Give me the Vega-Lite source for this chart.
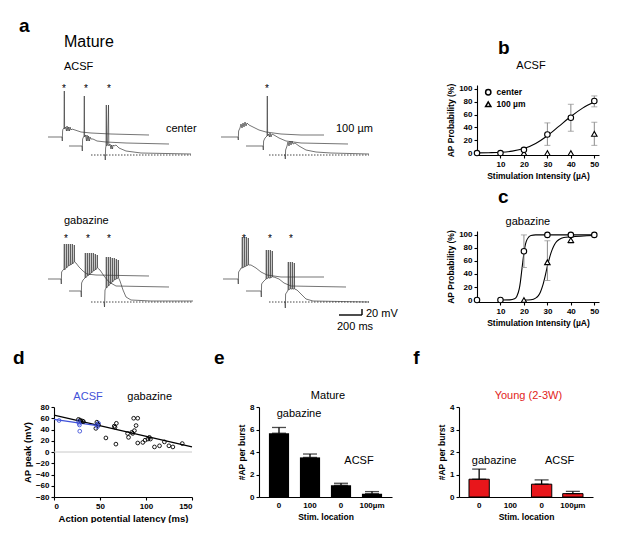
{
"$schema":"https://vega.github.io/schema/vega-lite/v6.json",
"padding":{"left":12,"top":17,"right":0,"bottom":0},
"background":"white",
"config":{
 "font":"Liberation Sans",
 "view":{"stroke":null},
 "axis":{"grid":false,"domainColor":"#000","domainWidth":1.1,"tickColor":"#000","tickWidth":1.1,"tickSize":3,"labelColor":"#000","labelFontSize":8,"labelFontWeight":"bold","labelPadding":2,"titleColor":"#000","titleFontSize":8.5,"titleFontWeight":"bold","titlePadding":3}
},
"datasets":{
 "traces":[
  {"id":"a1","t":47,"v":203},{"id":"a1","t":61,"v":203},{"id":"a1","t":61.3,"v":199},{"id":"a1","t":61.6,"v":209},{"id":"a1","t":62,"v":211},{"id":"a1","t":63,"v":212},{"id":"a1","t":63.3,"v":249},{"id":"a1","t":63.6,"v":211},{"id":"a1","t":64.5,"v":213},{"id":"a1","t":65.5,"v":209},{"id":"a1","t":66,"v":214},{"id":"a1","t":67,"v":209},{"id":"a1","t":67.5,"v":213},{"id":"a1","t":68.5,"v":209},{"id":"a1","t":69,"v":213},{"id":"a1","t":70,"v":210},{"id":"a1","t":71,"v":211},{"id":"a1","t":74,"v":210},{"id":"a1","t":80,"v":208},{"id":"a1","t":90,"v":207},{"id":"a1","t":110,"v":206},{"id":"a1","t":148,"v":205},
  {"id":"a2","t":68,"v":194},{"id":"a2","t":81,"v":194},{"id":"a2","t":81.3,"v":189},{"id":"a2","t":81.6,"v":201},{"id":"a2","t":82.5,"v":203},{"id":"a2","t":83,"v":204},{"id":"a2","t":83.3,"v":244},{"id":"a2","t":83.6,"v":203},{"id":"a2","t":84.5,"v":205},{"id":"a2","t":85.5,"v":199},{"id":"a2","t":86,"v":205},{"id":"a2","t":87,"v":199},{"id":"a2","t":87.5,"v":204},{"id":"a2","t":88.5,"v":199},{"id":"a2","t":89,"v":203},{"id":"a2","t":90,"v":201},{"id":"a2","t":92,"v":201},{"id":"a2","t":96,"v":199},{"id":"a2","t":105,"v":198},{"id":"a2","t":125,"v":197},{"id":"a2","t":168,"v":196},
  {"id":"a3","t":103,"v":185},{"id":"a3","t":104,"v":185},{"id":"a3","t":104.3,"v":180},{"id":"a3","t":104.6,"v":192},{"id":"a3","t":105,"v":194},{"id":"a3","t":105.3,"v":235},{"id":"a3","t":105.6,"v":194},{"id":"a3","t":106.5,"v":195},{"id":"a3","t":107.5,"v":235},{"id":"a3","t":107.8,"v":194},{"id":"a3","t":109,"v":196},{"id":"a3","t":110,"v":191},{"id":"a3","t":110.5,"v":195},{"id":"a3","t":111.5,"v":191},{"id":"a3","t":112,"v":195},{"id":"a3","t":113,"v":194},{"id":"a3","t":115,"v":195},{"id":"a3","t":118,"v":192},{"id":"a3","t":125,"v":189},{"id":"a3","t":140,"v":187},{"id":"a3","t":190,"v":186},
  {"id":"b1","t":220,"v":203},{"id":"b1","t":237,"v":203},{"id":"b1","t":237.3,"v":200},{"id":"b1","t":237.6,"v":209},{"id":"b1","t":239,"v":212},{"id":"b1","t":240,"v":216},{"id":"b1","t":241,"v":212},{"id":"b1","t":242,"v":217},{"id":"b1","t":243,"v":213},{"id":"b1","t":244,"v":218},{"id":"b1","t":245,"v":214},{"id":"b1","t":246,"v":217},{"id":"b1","t":248,"v":215},{"id":"b1","t":252,"v":213},{"id":"b1","t":258,"v":210},{"id":"b1","t":265,"v":208},{"id":"b1","t":280,"v":206},{"id":"b1","t":300,"v":205},{"id":"b1","t":323,"v":205},
  {"id":"b2","t":245,"v":194},{"id":"b2","t":262,"v":194},{"id":"b2","t":262.3,"v":190},{"id":"b2","t":262.6,"v":199},{"id":"b2","t":264,"v":202},{"id":"b2","t":266,"v":204},{"id":"b2","t":266.3,"v":244},{"id":"b2","t":266.6,"v":204},{"id":"b2","t":267.5,"v":206},{"id":"b2","t":268.5,"v":203},{"id":"b2","t":269,"v":207},{"id":"b2","t":270,"v":203},{"id":"b2","t":271,"v":206},{"id":"b2","t":273,"v":205},{"id":"b2","t":278,"v":202},{"id":"b2","t":285,"v":199},{"id":"b2","t":300,"v":197},{"id":"b2","t":347,"v":196},
  {"id":"b3","t":283,"v":185},{"id":"b3","t":284,"v":185},{"id":"b3","t":284.3,"v":181},{"id":"b3","t":284.6,"v":190},{"id":"b3","t":286,"v":194},{"id":"b3","t":287,"v":198},{"id":"b3","t":288,"v":194},{"id":"b3","t":289,"v":199},{"id":"b3","t":290,"v":195},{"id":"b3","t":291,"v":199},{"id":"b3","t":292,"v":196},{"id":"b3","t":294,"v":197},{"id":"b3","t":298,"v":194},{"id":"b3","t":305,"v":190},{"id":"b3","t":315,"v":188},{"id":"b3","t":330,"v":187},{"id":"b3","t":368,"v":186},
  {"id":"c1","t":47,"v":61},{"id":"c1","t":60,"v":61},{"id":"c1","t":60.3,"v":56},{"id":"c1","t":60.6,"v":68},{"id":"c1","t":62,"v":70},{"id":"c1","t":63,"v":71},{"id":"c1","t":63.3,"v":96},{"id":"c1","t":63.6,"v":70},{"id":"c1","t":65,"v":72},{"id":"c1","t":65.3,"v":96},{"id":"c1","t":65.6,"v":72},{"id":"c1","t":67,"v":74},{"id":"c1","t":67.3,"v":96},{"id":"c1","t":67.6,"v":74},{"id":"c1","t":69,"v":75},{"id":"c1","t":69.3,"v":96},{"id":"c1","t":69.6,"v":75},{"id":"c1","t":71,"v":76},{"id":"c1","t":71.3,"v":96},{"id":"c1","t":71.6,"v":76},{"id":"c1","t":73,"v":78},{"id":"c1","t":73.3,"v":95},{"id":"c1","t":73.6,"v":78},{"id":"c1","t":75,"v":77},{"id":"c1","t":78,"v":73},{"id":"c1","t":82,"v":69},{"id":"c1","t":86,"v":66},{"id":"c1","t":95,"v":65},{"id":"c1","t":148,"v":64},
  {"id":"c2","t":68,"v":49},{"id":"c2","t":80,"v":49},{"id":"c2","t":80.3,"v":43},{"id":"c2","t":80.6,"v":57},{"id":"c2","t":82,"v":60},{"id":"c2","t":84,"v":62},{"id":"c2","t":84.3,"v":87},{"id":"c2","t":84.6,"v":62},{"id":"c2","t":86,"v":64},{"id":"c2","t":86.3,"v":87},{"id":"c2","t":86.6,"v":64},{"id":"c2","t":88,"v":65},{"id":"c2","t":88.3,"v":87},{"id":"c2","t":88.6,"v":65},{"id":"c2","t":90,"v":67},{"id":"c2","t":90.3,"v":87},{"id":"c2","t":90.6,"v":67},{"id":"c2","t":92,"v":69},{"id":"c2","t":92.3,"v":87},{"id":"c2","t":92.6,"v":69},{"id":"c2","t":94,"v":70},{"id":"c2","t":94.3,"v":86},{"id":"c2","t":94.6,"v":70},{"id":"c2","t":96,"v":72},{"id":"c2","t":96.3,"v":85},{"id":"c2","t":96.6,"v":72},{"id":"c2","t":99,"v":70},{"id":"c2","t":103,"v":64},{"id":"c2","t":108,"v":58},{"id":"c2","t":115,"v":54},{"id":"c2","t":168,"v":53},
  {"id":"c3","t":103,"v":38},{"id":"c3","t":103.5,"v":33},{"id":"c3","t":104,"v":50},{"id":"c3","t":105,"v":52},{"id":"c3","t":105.3,"v":83},{"id":"c3","t":105.6,"v":52},{"id":"c3","t":107,"v":54},{"id":"c3","t":107.3,"v":83},{"id":"c3","t":107.6,"v":54},{"id":"c3","t":109,"v":56},{"id":"c3","t":109.3,"v":83},{"id":"c3","t":109.6,"v":56},{"id":"c3","t":111,"v":58},{"id":"c3","t":111.3,"v":82},{"id":"c3","t":111.6,"v":58},{"id":"c3","t":113,"v":60},{"id":"c3","t":113.3,"v":82},{"id":"c3","t":113.6,"v":60},{"id":"c3","t":115,"v":61},{"id":"c3","t":115.3,"v":81},{"id":"c3","t":115.6,"v":61},{"id":"c3","t":117,"v":62},{"id":"c3","t":117.3,"v":80},{"id":"c3","t":117.6,"v":62},{"id":"c3","t":119,"v":59},{"id":"c3","t":122,"v":50},{"id":"c3","t":125,"v":43},{"id":"c3","t":130,"v":40},{"id":"c3","t":150,"v":39},{"id":"c3","t":192,"v":39},
  {"id":"d1","t":222,"v":61},{"id":"d1","t":237,"v":61},{"id":"d1","t":237.3,"v":56},{"id":"d1","t":237.6,"v":68},{"id":"d1","t":239,"v":70},{"id":"d1","t":240,"v":72},{"id":"d1","t":241,"v":72},{"id":"d1","t":241.3,"v":103},{"id":"d1","t":241.6,"v":72},{"id":"d1","t":243,"v":73},{"id":"d1","t":243.3,"v":103},{"id":"d1","t":243.6,"v":73},{"id":"d1","t":245,"v":74},{"id":"d1","t":245.3,"v":103},{"id":"d1","t":245.6,"v":74},{"id":"d1","t":247,"v":75},{"id":"d1","t":247.3,"v":102},{"id":"d1","t":247.6,"v":75},{"id":"d1","t":250,"v":75},{"id":"d1","t":255,"v":72},{"id":"d1","t":260,"v":68},{"id":"d1","t":266,"v":65},{"id":"d1","t":280,"v":63},{"id":"d1","t":323,"v":63},
  {"id":"d2","t":245,"v":49},{"id":"d2","t":260,"v":49},{"id":"d2","t":260.3,"v":43},{"id":"d2","t":260.6,"v":56},{"id":"d2","t":262,"v":58},{"id":"d2","t":264,"v":60},{"id":"d2","t":265,"v":61},{"id":"d2","t":265.3,"v":90},{"id":"d2","t":265.6,"v":61},{"id":"d2","t":267,"v":62},{"id":"d2","t":267.3,"v":90},{"id":"d2","t":267.6,"v":62},{"id":"d2","t":269,"v":62},{"id":"d2","t":269.3,"v":90},{"id":"d2","t":269.6,"v":62},{"id":"d2","t":271,"v":63},{"id":"d2","t":271.3,"v":89},{"id":"d2","t":271.6,"v":63},{"id":"d2","t":273,"v":63},{"id":"d2","t":278,"v":61},{"id":"d2","t":283,"v":57},{"id":"d2","t":290,"v":54},{"id":"d2","t":345,"v":53},
  {"id":"d3","t":283,"v":38},{"id":"d3","t":284,"v":38},{"id":"d3","t":284.3,"v":32},{"id":"d3","t":284.6,"v":46},{"id":"d3","t":286,"v":48},{"id":"d3","t":287,"v":50},{"id":"d3","t":287.3,"v":78},{"id":"d3","t":287.6,"v":50},{"id":"d3","t":289,"v":51},{"id":"d3","t":289.3,"v":78},{"id":"d3","t":289.6,"v":51},{"id":"d3","t":291,"v":51},{"id":"d3","t":291.3,"v":78},{"id":"d3","t":291.6,"v":51},{"id":"d3","t":293,"v":51},{"id":"d3","t":293.3,"v":77},{"id":"d3","t":293.6,"v":51},{"id":"d3","t":296,"v":50},{"id":"d3","t":300,"v":46},{"id":"d3","t":305,"v":41},{"id":"d3","t":312,"v":39},{"id":"d3","t":368,"v":38}
 ]
},
"spacing":322,"bounds":"flush",
"resolve":{"scale":{"shape":"independent","color":"independent"},"legend":{"shape":"independent","color":"independent"}},
"vconcat":[
 {"hconcat":[
  {"width":342,"height":235,
   "encoding":{"x":{"field":"t","type":"quantitative","scale":{"domain":[53,395],"zero":false,"nice":false},"axis":null},
               "y":{"field":"v","type":"quantitative","scale":{"domain":[20,255],"zero":false,"nice":false},"axis":null}},
   "layer":[
    {"data":{"name":"traces"},"mark":{"type":"line","stroke":"#3a3a3a","strokeWidth":0.7,"clip":false},"encoding":{"detail":{"field":"id"}}},
    {"data":{"values":[{"id":"a3","t":90,"v":185},{"id":"a3","t":190,"v":185},{"id":"b3","t":268,"v":185},{"id":"b3","t":368,"v":185},{"id":"c3","t":90,"v":38},{"id":"c3","t":192,"v":38},{"id":"d3","t":268,"v":38},{"id":"d3","t":368,"v":38}]},
     "mark":{"type":"line","stroke":"#333","strokeWidth":0.9,"strokeDash":[1.5,1.5]},"encoding":{"detail":{"field":"id"}}},
    {"data":{"values":[{"t":338,"t2":361,"v":25,"v2":25},{"t":361,"t2":361,"v":25,"v2":31}]},
     "mark":{"type":"rule","color":"#000","strokeWidth":1.4},"encoding":{"x2":{"field":"t2"},"y2":{"field":"v2"}}},
    {"data":{"values":[{"t":63,"v":248},{"t":85,"v":248},{"t":108,"v":248},{"t":266,"v":248},{"t":65,"v":98},{"t":87,"v":98},{"t":108,"v":98},{"t":243,"v":98},{"t":269,"v":98},{"t":290,"v":98}]},
     "mark":{"type":"text","text":"*","fontSize":10,"align":"center","baseline":"alphabetic","color":"#000"}},
    {"data":{"values":[{"t":18,"v":308,"txt":"a"}]},
     "mark":{"type":"text","fontSize":19,"fontWeight":"bold","align":"left","baseline":"alphabetic","color":"#000"},"encoding":{"text":{"field":"txt"}}},
    {"data":{"values":[{"t":63,"v":293,"txt":"Mature"}]},
     "mark":{"type":"text","fontSize":16,"align":"left","baseline":"alphabetic","color":"#000"},"encoding":{"text":{"field":"txt"}}},
    {"data":{"values":[{"t":63,"v":270,"txt":"ACSF"},{"t":165,"v":208,"txt":"center"},{"t":335,"v":208,"txt":"100 µm"},{"t":63,"v":116,"txt":"gabazine"},{"t":365,"v":23,"txt":"20 mV"},{"t":336,"v":10,"txt":"200 ms"}]},
     "mark":{"type":"text","fontSize":11,"align":"left","baseline":"alphabetic","color":"#000"},"encoding":{"text":{"field":"txt"}}}
   ]
  },
  {"vconcat":[
   {"width":122,"height":70,
    "encoding":{"x":{"field":"x","type":"quantitative","scale":{"domain":[0,52],"nice":false},"axis":{"values":[10,20,30,40,50],"title":"Stimulation Intensity (µA)"}},
                "y":{"field":"y","type":"quantitative","scale":{"domain":[-3,106],"nice":false,"zero":false},"axis":{"values":[0,20,40,60,80,100],"title":"AP Probability (%)"}}},
    "layer":[
     {"data":{"values":[{"s":"center","x":0,"y":0.3},{"s":"center","x":5,"y":0.6},{"s":"center","x":10,"y":1.2},{"s":"center","x":15,"y":3},{"s":"center","x":20,"y":7},{"s":"center","x":25,"y":15},{"s":"center","x":30,"y":27},{"s":"center","x":35,"y":42},{"s":"center","x":40,"y":57},{"s":"center","x":45,"y":70},{"s":"center","x":50,"y":80}]},
      "mark":{"type":"line","color":"#000","strokeWidth":1.1,"interpolate":"monotone"},"encoding":{"detail":{"field":"s"}}},
     {"data":{"values":[{"x":30,"y":12,"y2":47},{"x":40,"y":34,"y2":76},{"x":50,"y":72,"y2":89},{"x":50,"y":12,"y2":48}]},
      "mark":{"type":"errorbar","ticks":{"size":6},"color":"#8a8a8a"},"encoding":{"y2":{"field":"y2"}}},
     {"data":{"values":[{"s":"100 µm","x":20,"y":0},{"s":"100 µm","x":30,"y":0},{"s":"100 µm","x":40,"y":0},{"s":"100 µm","x":50,"y":30},{"s":"center","x":0,"y":0},{"s":"center","x":10,"y":0},{"s":"center","x":20,"y":5},{"s":"center","x":30,"y":29},{"s":"center","x":40,"y":55},{"s":"center","x":50,"y":81}]},
      "mark":{"type":"point","filled":true,"fill":"white","stroke":"black","strokeWidth":1.1,"size":30,"opacity":1},
      "encoding":{"shape":{"field":"s","type":"nominal","sort":null,"scale":{"domain":["center","100 µm"],"range":["circle","triangle-up"]},
        "legend":{"orient":"none","legendX":7,"legendY":3,"title":null,"padding":0,"labelFontSize":8.5,"labelFontWeight":"bold","labelColor":"#000","symbolSize":28,"rowPadding":0,"labelOffset":4,
          "encode":{"symbols":{"update":{"stroke":{"value":"black"},"fill":{"value":"white"},"strokeWidth":{"value":1.1},"opacity":{"value":1}}}}}}}},
     {"data":{"values":[{"x":9,"y":154,"txt":"b"}]},"mark":{"type":"text","fontSize":19,"fontWeight":"bold","align":"left","baseline":"alphabetic","color":"#000"},"encoding":{"text":{"field":"txt"}}},
     {"data":{"values":[{"x":23,"y":131,"txt":"ACSF"}]},"mark":{"type":"text","fontSize":11,"align":"center","baseline":"alphabetic","color":"#000"},"encoding":{"text":{"field":"txt"}}}
    ]
   },
   {"width":122,"height":71,
    "encoding":{"x":{"field":"x","type":"quantitative","scale":{"domain":[0,52],"nice":false},"axis":{"values":[10,20,30,40,50],"title":"Stimulation Intensity (µA)"}},
                "y":{"field":"y","type":"quantitative","scale":{"domain":[-3,106],"nice":false,"zero":false},"axis":{"values":[0,20,40,60,80,100],"title":"AP Probability (%)"}}},
    "layer":[
     {"data":{"values":[{"s":"center","x":10,"y":0},{"s":"center","x":14,"y":0.3},{"s":"center","x":16,"y":2},{"s":"center","x":17,"y":6},{"s":"center","x":18,"y":17},{"s":"center","x":18.5,"y":28},{"s":"center","x":19,"y":43},{"s":"center","x":19.5,"y":58},{"s":"center","x":20,"y":72},{"s":"center","x":20.5,"y":83},{"s":"center","x":21,"y":90},{"s":"center","x":22,"y":96.5},{"s":"center","x":23,"y":99},{"s":"center","x":25,"y":100},{"s":"center","x":30,"y":100},{"s":"center","x":40,"y":100},{"s":"center","x":50,"y":100},
       {"s":"100 µm","x":20,"y":0},{"s":"100 µm","x":23,"y":0.5},{"s":"100 µm","x":25,"y":3},{"s":"100 µm","x":26,"y":6},{"s":"100 µm","x":27,"y":12},{"s":"100 µm","x":28,"y":22},{"s":"100 µm","x":29,"y":36},{"s":"100 µm","x":30,"y":52},{"s":"100 µm","x":31,"y":66},{"s":"100 µm","x":32,"y":77},{"s":"100 µm","x":33,"y":85},{"s":"100 µm","x":34,"y":90},{"s":"100 µm","x":35,"y":93},{"s":"100 µm","x":37,"y":96},{"s":"100 µm","x":40,"y":97},{"s":"100 µm","x":50,"y":99}]},
      "mark":{"type":"line","color":"#000","strokeWidth":1.1,"interpolate":"monotone"},"encoding":{"detail":{"field":"s"}}},
     {"data":{"values":[{"x":20,"y":50,"y2":100},{"x":30,"y":30,"y2":91},{"x":40,"y":87,"y2":96}]},
      "mark":{"type":"errorbar","ticks":{"size":6},"color":"#8a8a8a"},"encoding":{"y2":{"field":"y2"}}},
     {"data":{"values":[{"s":"100 µm","x":20,"y":0},{"s":"100 µm","x":30,"y":58},{"s":"100 µm","x":40,"y":92},{"s":"center","x":0,"y":0},{"s":"center","x":10,"y":0},{"s":"center","x":20,"y":75},{"s":"center","x":30,"y":100},{"s":"center","x":40,"y":100},{"s":"center","x":50,"y":100}]},
      "mark":{"type":"point","filled":true,"fill":"white","stroke":"black","strokeWidth":1.1,"size":30,"opacity":1},
      "encoding":{"shape":{"field":"s","type":"nominal","sort":null,"scale":{"domain":["center","100 µm"],"range":["circle","triangle-up"]},"legend":null}}},
     {"data":{"values":[{"x":9,"y":149,"txt":"c"}]},"mark":{"type":"text","fontSize":19,"fontWeight":"bold","align":"left","baseline":"alphabetic","color":"#000"},"encoding":{"text":{"field":"txt"}}},
     {"data":{"values":[{"x":21.7,"y":115,"txt":"gabazine"}]},"mark":{"type":"text","fontSize":11,"align":"center","baseline":"alphabetic","color":"#000"},"encoding":{"text":{"field":"txt"}}}
    ]
   }
  ],"spacing":76,"bounds":"flush",
  "resolve":{"scale":{"shape":"independent"},"legend":{"shape":"independent"}}}
 ],"spacing":81,"bounds":"flush",
 "resolve":{"scale":{"shape":"independent","color":"independent"},"legend":{"shape":"independent","color":"independent"}}},
 {"hconcat":[
  {"width":138,"height":90,
   "encoding":{"x":{"field":"lat","type":"quantitative","scale":{"domain":[0,150],"nice":false},"axis":{"values":[0,50,100,150],"title":"Action potential latency (ms)","titleFontSize":9.5}},
               "y":{"field":"peak","type":"quantitative","scale":{"domain":[-80,80],"nice":false},"axis":{"values":[-80,-60,-40,-20,0,20,40,60,80],"title":"AP peak (mV)","titleFontSize":9.5}}},
   "layer":[
    {"data":{"values":[{"lat":0,"lat2":150,"peak":0}]},"mark":{"type":"rule","color":"#c8c8c8","strokeWidth":1},"encoding":{"x2":{"field":"lat2"}}},
    {"data":{"values":[{"g":"gabazine","lat":0,"peak":65.5},{"g":"gabazine","lat":150,"peak":9},{"g":"ACSF","lat":0,"peak":58},{"g":"ACSF","lat":47,"peak":47}]},
     "mark":{"type":"line","strokeWidth":1.2},"encoding":{"color":{"field":"g","type":"nominal","scale":{"domain":["ACSF","gabazine"],"range":["#3f51d8","#000000"]},"legend":null}}},
    {"data":{"values":[
      {"g":"gabazine","lat":26.6,"peak":58},{"g":"gabazine","lat":28.4,"peak":56.7},{"g":"gabazine","lat":29,"peak":55},{"g":"gabazine","lat":31,"peak":55},{"g":"gabazine","lat":32,"peak":54},{"g":"gabazine","lat":46.6,"peak":53},{"g":"gabazine","lat":47.3,"peak":50},{"g":"gabazine","lat":45.5,"peak":42},{"g":"gabazine","lat":48.4,"peak":48},{"g":"gabazine","lat":56.4,"peak":25},{"g":"gabazine","lat":65.5,"peak":46},{"g":"gabazine","lat":67.8,"peak":51},{"g":"gabazine","lat":66.3,"peak":44},{"g":"gabazine","lat":67.3,"peak":14},{"g":"gabazine","lat":80,"peak":33},{"g":"gabazine","lat":81,"peak":26},{"g":"gabazine","lat":84.5,"peak":35},{"g":"gabazine","lat":85.5,"peak":33},{"g":"gabazine","lat":87.4,"peak":38},{"g":"gabazine","lat":86.6,"peak":60},{"g":"gabazine","lat":91,"peak":60},{"g":"gabazine","lat":89.2,"peak":47},{"g":"gabazine","lat":91,"peak":16},{"g":"gabazine","lat":96.5,"peak":17},{"g":"gabazine","lat":99,"peak":21},{"g":"gabazine","lat":102,"peak":23},{"g":"gabazine","lat":103.7,"peak":26},{"g":"gabazine","lat":104.8,"peak":23},{"g":"gabazine","lat":109.2,"peak":9},{"g":"gabazine","lat":114.7,"peak":11},{"g":"gabazine","lat":120,"peak":18},{"g":"gabazine","lat":124.9,"peak":11},{"g":"gabazine","lat":129.2,"peak":9},{"g":"gabazine","lat":139.4,"peak":15},
      {"g":"ACSF","lat":5.5,"peak":56},{"g":"ACSF","lat":26.6,"peak":54},{"g":"ACSF","lat":27.3,"peak":51},{"g":"ACSF","lat":27.7,"peak":48},{"g":"ACSF","lat":28,"peak":37},{"g":"ACSF","lat":46.6,"peak":48},{"g":"ACSF","lat":47.3,"peak":45},{"g":"ACSF","lat":48.4,"peak":51}]},
     "mark":{"type":"point","filled":false,"size":14,"strokeWidth":0.9,"opacity":1},"encoding":{"color":{"field":"g","type":"nominal","scale":{"domain":["ACSF","gabazine"],"range":["#3f51d8","#000000"]},"legend":null}}},
    {"data":{"values":[{"lat":37,"peak":92,"txt":"ACSF"}]},"mark":{"type":"text","fontSize":11,"align":"center","baseline":"alphabetic","color":"#3f51d8"},"encoding":{"text":{"field":"txt"}}},
    {"data":{"values":[{"lat":104,"peak":92,"txt":"gabazine"}]},"mark":{"type":"text","fontSize":11,"align":"center","baseline":"alphabetic","color":"#000"},"encoding":{"text":{"field":"txt"}}},
    {"data":{"values":[{"lat":-44.6,"peak":156,"txt":"d"}]},"mark":{"type":"text","fontSize":19,"fontWeight":"bold","align":"left","baseline":"alphabetic","color":"#000"},"encoding":{"text":{"field":"txt"}}}
   ]
  },
  {"width":133,"height":90,
   "encoding":{"x":{"field":"loc","type":"nominal","sort":null,"scale":{"domain":["g0","g100","a0","a100"],"paddingInner":0.35,"paddingOuter":0.32},"axis":{"title":"Stim. location","labelAngle":0,"ticks":false,"labelPadding":4,"labelExpr":"datum.value == 'a100' ? '100µm' : (datum.value == 'g100' ? '100' : '0')"}},
               "y":{"field":"mean","type":"quantitative","scale":{"domain":[0,8],"nice":false},"axis":{"values":[0,2,4,6,8],"title":"#AP per burst"}}},
   "layer":[
    {"data":{"values":[{"loc":"g0","mean":5.67,"hi":6.18},{"loc":"g100","mean":3.52,"hi":3.82},{"loc":"a0","mean":1.04,"hi":1.22},{"loc":"a100","mean":0.3,"hi":0.48}]},
     "mark":{"type":"bar","color":"#000"}},
    {"data":{"values":[{"loc":"g0","mean":5.67,"hi":6.18},{"loc":"g100","mean":3.52,"hi":3.82},{"loc":"a0","mean":1.04,"hi":1.22},{"loc":"a100","mean":0.3,"hi":0.48}]},
     "mark":{"type":"errorbar","ticks":{"size":14},"color":"#000","thickness":1.3},"encoding":{"y2":{"field":"hi"}}},
    {"data":{"values":[{"loc":"g0","mean":7.1,"txt":"gabazine"}]},"mark":{"type":"text","fontSize":11,"align":"center","baseline":"alphabetic","dx":20,"color":"#000"},"encoding":{"text":{"field":"txt"}}},
    {"data":{"values":[{"loc":"a0","mean":2.93,"txt":"ACSF"}]},"mark":{"type":"text","fontSize":11,"align":"center","baseline":"alphabetic","dx":18,"color":"#000"},"encoding":{"text":{"field":"txt"}}},
    {"data":{"values":[{"loc":"g100","mean":8.71,"txt":"Mature"}]},"mark":{"type":"text","fontSize":11,"align":"center","baseline":"alphabetic","dx":18,"color":"#000"},"encoding":{"text":{"field":"txt"}}},
    {"data":{"values":[{"loc":"g0","mean":11.8,"txt":"e"}]},"mark":{"type":"text","fontSize":19,"fontWeight":"bold","align":"left","baseline":"alphabetic","dx":-65,"color":"#000"},"encoding":{"text":{"field":"txt"}}}
   ]
  },
  {"width":134,"height":90,
   "encoding":{"x":{"field":"loc","type":"nominal","sort":null,"scale":{"domain":["g0","g100","a0","a100"],"paddingInner":0.35,"paddingOuter":0.32},"axis":{"title":"Stim. location","labelAngle":0,"ticks":false,"labelPadding":4,"labelExpr":"datum.value == 'a100' ? '100µm' : (datum.value == 'g100' ? '100' : '0')"}},
               "y":{"field":"mean","type":"quantitative","scale":{"domain":[0,4],"nice":false},"axis":{"values":[0,1,2,3,4],"title":"#AP per burst"}}},
   "layer":[
    {"data":{"values":[{"loc":"g0","mean":0.79,"hi":1.24},{"loc":"a0","mean":0.57,"hi":0.76},{"loc":"a100","mean":0.15,"hi":0.25}]},
     "mark":{"type":"bar","fill":"#e8161b","stroke":"#000","strokeWidth":1}},
    {"data":{"values":[{"loc":"g0","mean":0.79,"hi":1.24},{"loc":"a0","mean":0.57,"hi":0.76},{"loc":"a100","mean":0.15,"hi":0.25}]},
     "mark":{"type":"errorbar","ticks":{"size":14},"color":"#000","thickness":1.3},"encoding":{"y2":{"field":"hi"}}},
    {"data":{"values":[{"loc":"g0","mean":1.47,"txt":"gabazine"}]},"mark":{"type":"text","fontSize":11,"align":"center","baseline":"alphabetic","dx":15,"color":"#000"},"encoding":{"text":{"field":"txt"}}},
    {"data":{"values":[{"loc":"a0","mean":1.47,"txt":"ACSF"}]},"mark":{"type":"text","fontSize":11,"align":"center","baseline":"alphabetic","dx":18,"color":"#000"},"encoding":{"text":{"field":"txt"}}},
    {"data":{"values":[{"loc":"g100","mean":4.36,"txt":"Young (2-3W)"}]},"mark":{"type":"text","fontSize":11,"align":"center","baseline":"alphabetic","dx":18,"color":"#e2231a"},"encoding":{"text":{"field":"txt"}}},
    {"data":{"values":[{"loc":"g0","mean":5.9,"txt":"f"}]},"mark":{"type":"text","fontSize":19,"fontWeight":"bold","align":"left","baseline":"alphabetic","dx":-66,"color":"#000"},"encoding":{"text":{"field":"txt"}}}
   ]
  }
 ],"spacing":67,"bounds":"flush",
 "resolve":{"scale":{"color":"independent"},"legend":{"color":"independent"}}}
]
}
